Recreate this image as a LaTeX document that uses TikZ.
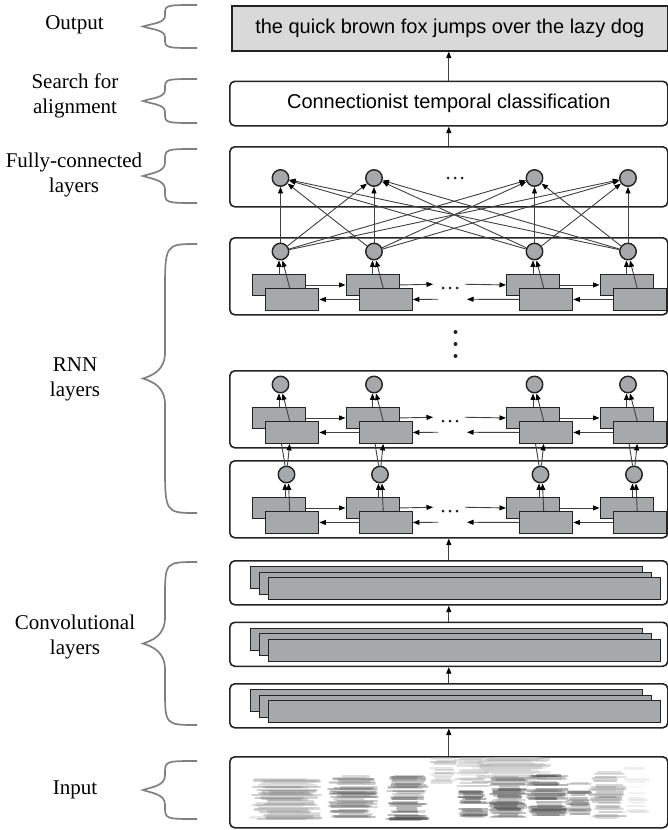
\documentclass[tikz,border=0pt]{standalone}
\usepackage{fontspec}
\setmainfont{Liberation Serif}
\newfontfamily\boxfont{Liberation Sans}
\usetikzlibrary{arrows.meta,calc}

\definecolor{cellgray}{HTML}{A7A8AA}
\definecolor{outgray}{HTML}{D9D9D9}
\definecolor{edge}{HTML}{232323}
\definecolor{wire}{HTML}{404040}
\definecolor{bracegray}{HTML}{808080}

% curly brace on the left: top y, bottom y
\newcommand\sidebrace[2]{%
  \pgfmathsetmacro\bmid{(#1+#2)/2}%
  \pgfmathsetmacro\bh{(#2-#1)/2}%
  \pgfmathsetmacro\qa{min(0.45*\bh,50)}%
  \pgfmathsetmacro\qb{min(0.5*\bh,26)}%
  \draw[brc] (197,#1) .. controls (165,#1) .. (165,#1+\qa)
    -- (165,\bmid-\qb) .. controls (165,\bmid-0.3*\qb) and (152,\bmid-3) .. (143,\bmid)
    .. controls (152,\bmid+3) and (165,\bmid+0.3*\qb) .. (165,\bmid+\qb)
    -- (165,#2-\qa) .. controls (165,#2) .. (197,#2);
}

\begin{document}
\begin{tikzpicture}[x=1pt,y=-1pt,
  layerbox/.style={draw=edge, line width=1.6pt, rounded corners=5pt, minimum width=438pt,
    inner sep=0pt, anchor=north west},
  cell/.style={draw=edge, fill=cellgray, line width=1.4pt, inner sep=0pt,
    minimum width=53pt, minimum height=21.5pt, anchor=north west},
  sheet/.style={draw=edge, fill=cellgray, line width=1.4pt, inner sep=0pt,
    minimum width=392pt, minimum height=22pt, anchor=north west},
  unit/.style={circle, draw=edge, fill=cellgray, line width=1.4pt, inner sep=0pt, minimum size=16.5pt},
  conn/.style={draw=wire, line width=0.9pt, -{Triangle[length=6.5pt,width=5pt,color=black]}},
  brc/.style={draw=bracegray, line width=1.7pt},
  lbl/.style={font=\fontsize{21}{25}\selectfont, align=center, inner sep=0pt},
  boxtext/.style={font=\boxfont\fontsize{20}{24}\selectfont},
]
\useasboundingbox (0,0) rectangle (668,830);

% ---- output and CTC ----
\node[draw=edge, fill=outgray, line width=1.6pt, minimum width=436pt, minimum height=45pt,
  inner sep=0pt, anchor=north west, boxtext] (out) at (231,5) {the quick brown fox jumps over the lazy dog};
\node[layerbox, minimum height=44.5pt, boxtext] (ctc) at (229,80.5) {Connectionist temporal classification};

% ---- fully-connected layer ----
\node[layerbox, minimum height=60pt] (fc) at (229,146) {};
\foreach \j/\c in {1/280.5,2/374,3/534.5,4/628}
  \node[unit] (f\j) at (\c,178) {};
\foreach \d in {-7,0,7} \fill[edge] (455+\d,178) circle (1.5pt);

% ---- recurrent layers: boxes, units, backward-direction cells ----
\foreach \L/\T/\s in {1/237/0,2/370/0,3/460/6}{
  \node[layerbox, minimum height=77pt] (rnn\L) at (229,\T) {};
  \foreach \i/\c in {1/280.5,2/374,3/534.5,4/628}{
    \node[unit] (u\L\i) at (\c+\s,\T+14.5) {};
    \node[cell] (bk\L\i) at (\c-28.5,\T+36.5) {};
    \coordinate (vt\L\i) at ([xshift=-1.5pt]u\L\i.south);
  }
  \coordinate (fa\L) at (433,\T+47.25);
  \coordinate (fb\L) at (465,\T+47.25);
  \coordinate (ba\L) at (438,\T+62.25);
  \coordinate (bb\L) at (467,\T+62.25);
  \foreach \d in {-7,0,7} \fill[edge] (450+\d,\T+51) circle (1.5pt);
}

% links from the lower recurrent layer into the cells above
\foreach \i in {1,...,4}
  \draw[conn] (u3\i) -- (bk2\i.south);

% front cells
\foreach \L/\T in {1/237,2/370,3/460}{
  \foreach \i/\c in {1/280.5,2/374,3/534.5,4/628}
    \node[cell] (fr\L\i) at (\c-15.5,\T+51) {};
}

\foreach \i in {1,...,4}
  \draw[conn] (u3\i) -- ([xshift=-2.5pt]fr2\i.south);

% cells to units, and time-direction links
\foreach \L in {1,2,3}{
  \foreach \i in {1,...,4}{
    \draw[conn] (vt\L\i |- bk\L\i.north) -- (vt\L\i);
    \draw[conn] ([xshift=-2.5pt]fr\L\i.north) -- ([xshift=2pt]u\L\i.south);
  }
  \draw[conn] (bk\L1.east) -- (bk\L2.west);
  \draw[conn] (bk\L2.east) -- (fa\L);
  \draw[conn] (fb\L) -- (bk\L3.west);
  \draw[conn] (bk\L3.east) -- (bk\L4.west);
  \draw[conn] (fr\L2.west) -- (fr\L1.east);
  \draw[conn] (ba\L) -- (fr\L2.east);
  \draw[conn] (fr\L3.west) -- (bb\L);
  \draw[conn] (fr\L4.west) -- (fr\L3.east);
}

% vertical ellipsis between recurrent layers
\foreach \y in {332,344,356} \fill[edge] (455.5,\y) circle (2pt);

% full connections into the dense layer
\foreach \i in {1,...,4}
  \foreach \j in {1,...,4}
    \draw[conn] (u1\i) -- (f\j);

% ---- convolutional layers ----
\foreach \k/\T in {1/560,2/621.5,3/683}{
  \node[layerbox, minimum height=44pt] (cv\k) at (229,\T) {};
  \node[sheet] (sa\k) at (250,\T+6) {};
  \node[sheet] (sb\k) at (259,\T+11.5) {};
  \node[sheet] (sc\k) at (268,\T+17) {};
}

% ---- input spectrogram ----
\node[layerbox, minimum height=71pt] (inp) at (229,756) {};
\begin{scope}
  \clip ([shift={(2pt,-2pt)}]inp.south west) rectangle ([shift={(-2pt,2pt)}]inp.north east);
  \pgfmathsetseed{12}
  \foreach \xa/\xb/\ya/\yb/\n/\gmin/\gmax in {
      250/322/779/820/60/20/50,
      328/378/776/818/50/30/65,
      386/428/775/820/50/35/75,
      430/456/758/785/16/15/40,
      454/492/758/786/16/15/40,
      472/555/758/783/24/15/45,
      458/488/790/818/28/40/80,
      489/528/777/818/44/40/80,
      526/568/775/815/44/40/80,
      566/591/781/815/28/35/65,
      589/626/772/818/36/25/55,
      624/650/763/815/14/5/18}{
    \foreach \k in {1,...,\n}{
      \pgfmathsetmacro\yy{\ya+rnd*(\yb-\ya)}
      \pgfmathsetmacro\xs{\xa+rnd*0.3*(\xb-\xa)}
      \pgfmathsetmacro\xe{\xb-rnd*0.3*(\xb-\xa)}
      \pgfmathtruncatemacro\gg{\gmin+rnd*(\gmax-\gmin)}
      \draw[line width=2.4pt, line cap=round, black!\gg, opacity=0.4] (\xs,\yy) -- (\xe,\yy);
    }
  }
\end{scope}

% ---- data flow between blocks ----
\draw[conn] (inp.north) -- (cv3.south);
\draw[conn] (cv3.north) -- (cv2.south);
\draw[conn] (cv2.north) -- (cv1.south);
\draw[conn] (cv1.north) -- (rnn3.south);
\draw[conn] (fc.north) -- (ctc.south);
\draw[conn] (ctc.north) -- (ctc.north |- out.south);

% ---- side labels ----
\sidebrace{5}{48}
\sidebrace{79}{123}
\sidebrace{149}{203}
\sidebrace{244}{513}
\sidebrace{562}{725}
\sidebrace{761}{819}

\node[lbl] (lo) at (74.5,25) {Output};
\node[lbl] (ls) at (75,95.5) {Search for\\alignment};
\node[lbl] (lf) at (74,175) {Fully-connected\\layers};
\node[lbl] (lr) at (75,379) {RNN\\layers};
\node[lbl] (lc) at (75,637) {Convolutional\\layers};
\node[lbl] (li) at (75,790) {Input};
\end{tikzpicture}
\end{document}
